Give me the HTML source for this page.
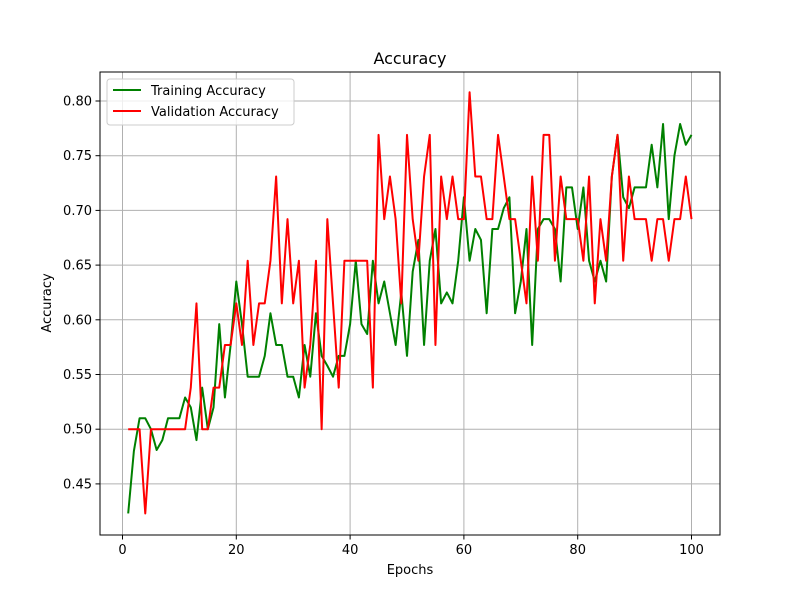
<!DOCTYPE html>
<html><head><meta charset="utf-8"><style>
body{margin:0;background:#fff;}
svg text{font-family:"DejaVu Sans","Liberation Sans",sans-serif;}
</style></head><body>
<svg id="chart" width="800" height="600" xmlns="http://www.w3.org/2000/svg">
<rect width="800" height="600" fill="#fff"/>
<g id="grid"></g>
<g id="lines"></g>
<rect x="100" y="72" width="620" height="463" fill="none" stroke="#000" stroke-width="1"/>
<g id="ticks"></g>
<text x="410" y="64" font-size="16" text-anchor="middle">Accuracy</text>
<text x="410" y="574" font-size="13" text-anchor="middle">Epochs</text>
<text transform="translate(51,303) rotate(-90)" font-size="13" text-anchor="middle">Accuracy</text>
<g>
<rect x="107" y="79" width="187" height="46" rx="3" fill="#fff" fill-opacity="0.8" stroke="#ccc"/>
<g><line x1="113" y1="90" x2="141" y2="90" stroke="green" stroke-width="2"/><text x="151" y="95" font-size="13">Training Accuracy</text></g>
<g><line x1="113" y1="111" x2="141" y2="111" stroke="red" stroke-width="2"/><text x="151" y="116" font-size="13">Validation Accuracy</text></g>
</g>
</svg>
<script>
const trainAcc=[0.423,0.48,0.51,0.51,0.50,0.481,0.49,0.51,0.51,0.51,0.529,0.52,0.49,0.538,0.50,0.52,0.596,0.529,0.577,0.635,0.596,0.548,0.548,0.548,0.567,0.606,0.577,0.577,0.548,0.548,0.529,0.577,0.548,0.606,0.567,0.558,0.548,0.567,0.567,0.596,0.654,0.596,0.587,0.654,0.615,0.635,0.606,0.577,0.625,0.567,0.644,0.673,0.577,0.654,0.683,0.615,0.625,0.615,0.654,0.712,0.654,0.683,0.673,0.606,0.683,0.683,0.702,0.712,0.606,0.635,0.683,0.577,0.683,0.692,0.692,0.683,0.635,0.721,0.721,0.683,0.721,0.654,0.635,0.654,0.635,0.731,0.769,0.712,0.702,0.721,0.721,0.721,0.760,0.721,0.779,0.692,0.750,0.779,0.760,0.769];
const valAcc=[0.5,0.5,0.5,0.423,0.5,0.5,0.5,0.5,0.5,0.5,0.5,0.538,0.615,0.5,0.5,0.538,0.538,0.577,0.577,0.615,0.577,0.654,0.577,0.615,0.615,0.654,0.731,0.615,0.692,0.615,0.654,0.538,0.577,0.654,0.5,0.692,0.615,0.538,0.654,0.654,0.654,0.654,0.654,0.538,0.769,0.692,0.731,0.692,0.615,0.769,0.692,0.654,0.731,0.769,0.577,0.731,0.692,0.731,0.692,0.692,0.808,0.731,0.731,0.692,0.692,0.769,0.731,0.692,0.692,0.654,0.615,0.731,0.654,0.769,0.769,0.654,0.731,0.692,0.692,0.692,0.654,0.731,0.615,0.692,0.654,0.731,0.769,0.654,0.731,0.692,0.692,0.692,0.654,0.692,0.692,0.654,0.692,0.692,0.731,0.692];
const xTicks=[0,20,40,60,80,100];
const yTicks=[0.45,0.50,0.55,0.60,0.65,0.70,0.75,0.80];
const NS='http://www.w3.org/2000/svg';
const X=e=>122.5+e*5.69;
const Y=v=>101+(0.80-v)/0.05*54.7;
function mk(t,a,p){const el=document.createElementNS(NS,t);for(const k in a)el.setAttribute(k,a[k]);p.appendChild(el);return el;}
const grid=document.getElementById('grid'),ticks=document.getElementById('ticks'),lines=document.getElementById('lines');
xTicks.forEach(t=>{
 const g=mk('line',{x1:X(t),x2:X(t),y1:72,y2:535,stroke:'#b0b0b0','stroke-width':1},grid);
 
 
 const tk=mk('line',{x1:X(t),x2:X(t),y1:535,y2:539.5,stroke:'#000'},ticks);
 
 
 const tx=mk('text',{x:X(t),y:554,'font-size':13,'text-anchor':'middle'},ticks);
 tx.textContent=t;
 
 
});
yTicks.forEach(t=>{
 const g=mk('line',{x1:100,x2:720,y1:Y(t),y2:Y(t),stroke:'#b0b0b0','stroke-width':1},grid);
 
 
 const tk=mk('line',{x1:95.5,x2:100,y1:Y(t),y2:Y(t),stroke:'#000'},ticks);
 
 
 const tx=mk('text',{x:92,y:Y(t)+4.5,'font-size':13,'text-anchor':'end'},ticks);
 tx.textContent=t.toFixed(2);
 
 
});
function series(d,c,n){
 const pts=d.map((v,i)=>X(i+1).toFixed(2)+','+Y(v).toFixed(2)).join(' ');
 const p=mk('polyline',{points:pts,fill:'none',stroke:c,'stroke-width':2,'stroke-linejoin':'round'},lines);
 
 
}
series(trainAcc,'green','training-accuracy-line');
series(valAcc,'red','validation-accuracy-line');
</script>
</body></html>
